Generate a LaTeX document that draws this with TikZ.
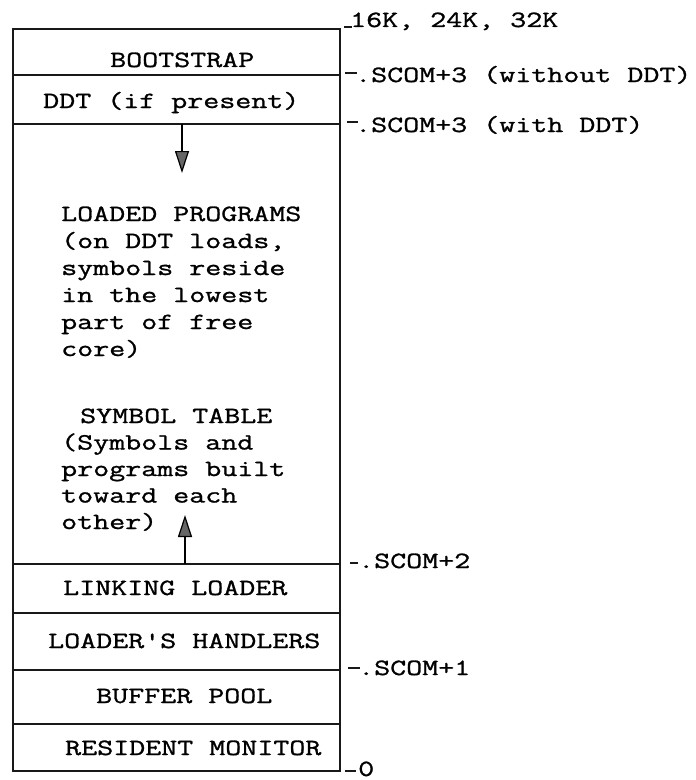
\documentclass[tikz,border=0pt]{standalone}
\usepackage{fontspec}
\setmonofont[FakeStretch=1.34,FakeBold=1.2]{Latin Modern Mono}
\usetikzlibrary{arrows.meta}
\begin{document}
\begin{tikzpicture}[x=1bp,y=-1bp,
  txt/.style={inner sep=0pt,anchor=base west,font=\ttfamily\fontsize{23.2bp}{27bp}\selectfont},
  frame/.style={line width=1.7bp,black!90},
  tick/.style={line width=1.4bp,black!90},
  growarrow/.style={line width=2.2bp,-{Triangle[length=22bp,width=14bp,fill=black!60,line width=1.2bp]}}
]
\useasboundingbox (0,0) rectangle (696,780);
% memory map frame
\draw[frame] (13,29) rectangle (340,771);
\foreach \yy in {75,124,564,613,670,724}
  \draw[frame] (13,\yy) -- (340,\yy);
% region texts
\node[txt] (boot) at (110,67) {BOOTSTRAP};
\node[txt] (ddt) at (43,108) {DDT (if present)};
\node[txt] (lp1) at (61,221) {LOADED PROGRAMS};
\node[txt] (lp2) at (61,248) {(on DDT loads,};
\node[txt] (lp3) at (61,275) {symbols reside};
\node[txt] (lp4) at (61,302) {in the lowest};
\node[txt] (lp5) at (61,329) {part of free};
\node[txt] (lp6) at (61,356) {core)};
\node[txt] (st1) at (80,423) {SYMBOL TABLE};
\node[txt] (st2) at (61,449.5) {(Symbols and};
\node[txt] (st3) at (61,476) {programs built};
\node[txt] (st4) at (61,502.5) {toward each};
\node[txt] (st5) at (61,529) {other)};
\node[txt] (link) at (63,595) {LINKING LOADER};
\node[txt] (hand) at (48,648) {LOADER'S HANDLERS};
\node[txt] (buf) at (96,703) {BUFFER POOL};
\node[txt] (res) at (65,755) {RESIDENT MONITOR};
% growth arrows
\coordinate (dtop) at (182,124);
\coordinate (dtip) at (182,173);
\coordinate (ubot) at (185,564);
\coordinate (utip) at (185,515);
\draw[growarrow] (dtop) -- (dtip);
\draw[growarrow] (ubot) -- (utip);
% address labels
\node[txt] (a16) at (350,27) {16K, 24K, 32K};
\node[txt] (a3n) at (355,82) {.SCOM+3 (without DDT)};
\node[txt] (a3w) at (355,132) {.SCOM+3 (with DDT)};
\node[txt] (a2) at (358,568) {.SCOM+2};
\node[txt] (a1) at (358,675) {.SCOM+1};
\node[txt] (a0) at (358,776) {0};
% tick marks
\coordinate (t16a) at (344,27); \coordinate (t16b) at (352,27);
\coordinate (t3na) at (345,73); \coordinate (t3nb) at (357,73);
\coordinate (t3wa) at (347,122); \coordinate (t3wb) at (358,122);
\coordinate (t2a) at (350,563); \coordinate (t2b) at (358,563);
\coordinate (t1a) at (348,668); \coordinate (t1b) at (360,668);
\coordinate (t0a) at (345,771); \coordinate (t0b) at (356,771);
\draw[tick] (t16a) -- (t16b);
\draw[tick] (t3na) -- (t3nb);
\draw[tick] (t3wa) -- (t3wb);
\draw[tick] (t2a) -- (t2b);
\draw[tick] (t1a) -- (t1b);
\draw[tick] (t0a) -- (t0b);
\end{tikzpicture}
\end{document}
